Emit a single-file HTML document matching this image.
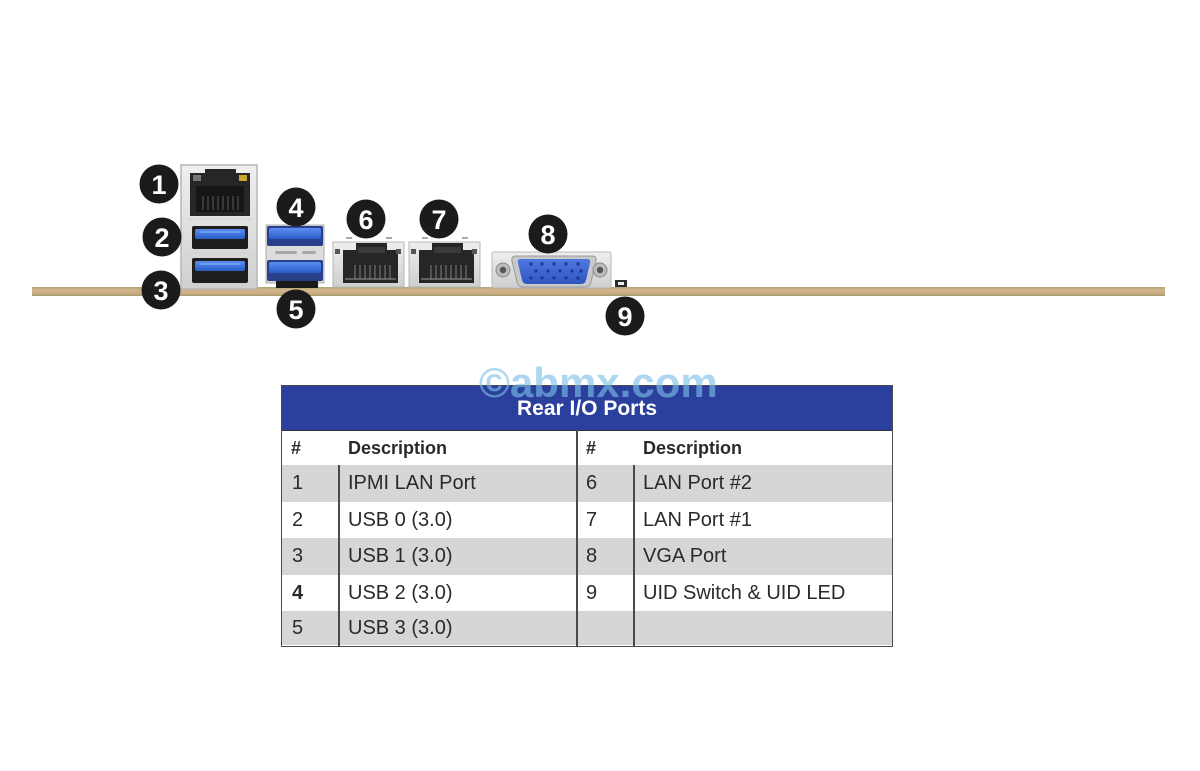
<!DOCTYPE html>
<html>
<head>
<meta charset="utf-8">
<style>
html,body{margin:0;padding:0;background:#fff;}
body{width:1200px;height:771px;position:relative;overflow:hidden;font-family:"Liberation Sans",Arial,sans-serif;}
svg.ports{position:absolute;left:0;top:0;}
.wm{position:absolute;left:479px;top:359px;font-size:42px;font-weight:bold;color:#7cc0e8;opacity:0.62;white-space:nowrap;z-index:3;}
.tbl{position:absolute;left:281px;top:385px;width:612px;height:262px;border:1.5px solid #4a4a4a;box-sizing:border-box;background:#fff;z-index:1;overflow:hidden;}
.hdr{position:absolute;left:0;top:0;width:100%;height:45px;background:#2b3f9c;color:#fff;font-weight:bold;font-size:21px;text-align:center;line-height:46px;border-bottom:1.5px solid #333;box-sizing:border-box;}
.row{position:absolute;left:0;width:100%;height:36.5px;font-size:20px;color:#2a2a2a;}
.row span{position:absolute;line-height:36px;top:0;white-space:nowrap;}
.g{background:#d6d6d6;}
.vl{position:absolute;width:1.5px;background:#4a4a4a;}
</style>
</head>
<body>
<svg class="ports" width="1200" height="771" viewBox="0 0 1200 771">
  <defs>
    <linearGradient id="board" x1="0" y1="0" x2="0" y2="1">
      <stop offset="0" stop-color="#b0a474"/>
      <stop offset="0.35" stop-color="#d2b48c"/>
      <stop offset="0.75" stop-color="#c9ab82"/>
      <stop offset="1" stop-color="#9c9a6a"/>
    </linearGradient>
    <linearGradient id="usbblue" x1="0" y1="0" x2="0" y2="1">
      <stop offset="0" stop-color="#5b8ef0"/>
      <stop offset="1" stop-color="#2a5cc8"/>
    </linearGradient>
    <linearGradient id="metal" x1="0" y1="0" x2="0" y2="1">
      <stop offset="0" stop-color="#efefef"/>
      <stop offset="1" stop-color="#cfcfcf"/>
    </linearGradient>
    <linearGradient id="vga" x1="0" y1="0" x2="0" y2="1">
      <stop offset="0" stop-color="#4f78e0"/>
      <stop offset="1" stop-color="#2f55c0"/>
    </linearGradient>
  </defs>

  <rect x="32" y="287" width="1133" height="9" fill="url(#board)"/>

  <!-- Stack 1 -->
  <rect x="181" y="165" width="76" height="124" fill="url(#metal)" stroke="#b5b5b5" stroke-width="1.5"/>
  <path d="M190 173 H205 V169 H236 V173 H250 V216 H190 Z" fill="#262626"/>
  <rect x="193" y="175" width="8" height="6" fill="#777"/>
  <rect x="239" y="175" width="8" height="6" fill="#c8a830"/>
  <rect x="196" y="186" width="48" height="26" fill="#151515"/>
  <g stroke="#4a4a4a" stroke-width="1.3">
    <line x1="203" y1="196" x2="203" y2="210"/><line x1="208" y1="196" x2="208" y2="210"/>
    <line x1="213" y1="196" x2="213" y2="210"/><line x1="218" y1="196" x2="218" y2="210"/>
    <line x1="223" y1="196" x2="223" y2="210"/><line x1="228" y1="196" x2="228" y2="210"/>
    <line x1="233" y1="196" x2="233" y2="210"/><line x1="238" y1="196" x2="238" y2="210"/>
  </g>
  <line x1="188" y1="219" x2="252" y2="219" stroke="#d0d0d0" stroke-width="1"/>
  <rect x="192" y="226" width="56" height="23" rx="2" fill="#1e1e1e"/>
  <rect x="195" y="229" width="50" height="10" rx="2" fill="url(#usbblue)"/>
  <line x1="200" y1="232" x2="240" y2="232" stroke="#8fb5ff" stroke-width="1"/>
  <line x1="187" y1="253" x2="252" y2="253" stroke="#d0d0d0" stroke-width="1"/>
  <rect x="192" y="258" width="56" height="25" rx="2" fill="#1e1e1e"/>
  <rect x="195" y="261" width="50" height="10" rx="2" fill="url(#usbblue)"/>
  <line x1="200" y1="264" x2="240" y2="264" stroke="#8fb5ff" stroke-width="1"/>

  <!-- Stack 2 -->
  <rect x="266" y="225" width="58" height="58" fill="#d5d5d5" stroke="#b0b0b0" stroke-width="1"/>
  <rect x="267" y="226" width="56" height="20" rx="2" fill="#2a3f8a"/>
  <rect x="269" y="228" width="52" height="11" rx="2" fill="url(#usbblue)"/>
  <rect x="267" y="246" width="56" height="14" fill="#dcdcdc"/>
  <rect x="275" y="251" width="22" height="3" rx="1.5" fill="#a8a8a8"/>
  <rect x="302" y="251" width="14" height="3" rx="1.5" fill="#a8a8a8"/>
  <rect x="267" y="260" width="56" height="21" rx="2" fill="#2a3f8a"/>
  <rect x="269" y="262" width="52" height="11" rx="2" fill="url(#usbblue)"/>
  <rect x="276" y="281" width="42" height="7" fill="#1a1a1a"/>

  <!-- LAN 6 -->
  <g>
    <rect x="333" y="242" width="71" height="45" fill="url(#metal)" stroke="#b5b5b5" stroke-width="1"/>
    <line x1="346" y1="238" x2="352" y2="238" stroke="#555" stroke-width="1"/>
    <line x1="386" y1="238" x2="392" y2="238" stroke="#555" stroke-width="1"/>
    <path d="M343 250 H356 V243 H387 V250 H398 V283 H343 Z" fill="#262626"/>
    <rect x="335" y="249" width="5" height="5" fill="#555"/>
    <rect x="396" y="249" width="5" height="5" fill="#555"/>
    <rect x="358" y="247" width="27" height="6" fill="#3a3a3a"/>
    <g stroke="#6a6a6a" stroke-width="1.3">
      <line x1="355" y1="265" x2="355" y2="279"/><line x1="360" y1="265" x2="360" y2="279"/>
      <line x1="365" y1="265" x2="365" y2="279"/><line x1="370" y1="265" x2="370" y2="279"/>
      <line x1="375" y1="265" x2="375" y2="279"/><line x1="380" y1="265" x2="380" y2="279"/>
      <line x1="385" y1="265" x2="385" y2="279"/><line x1="390" y1="265" x2="390" y2="279"/>
    </g>
    <line x1="345" y1="279" x2="396" y2="279" stroke="#999" stroke-width="1"/>
  </g>
  <!-- LAN 7 -->
  <g transform="translate(76,0)">
    <rect x="333" y="242" width="71" height="45" fill="url(#metal)" stroke="#b5b5b5" stroke-width="1"/>
    <line x1="346" y1="238" x2="352" y2="238" stroke="#555" stroke-width="1"/>
    <line x1="386" y1="238" x2="392" y2="238" stroke="#555" stroke-width="1"/>
    <path d="M343 250 H356 V243 H387 V250 H398 V283 H343 Z" fill="#262626"/>
    <rect x="335" y="249" width="5" height="5" fill="#555"/>
    <rect x="396" y="249" width="5" height="5" fill="#555"/>
    <rect x="358" y="247" width="27" height="6" fill="#3a3a3a"/>
    <g stroke="#6a6a6a" stroke-width="1.3">
      <line x1="355" y1="265" x2="355" y2="279"/><line x1="360" y1="265" x2="360" y2="279"/>
      <line x1="365" y1="265" x2="365" y2="279"/><line x1="370" y1="265" x2="370" y2="279"/>
      <line x1="375" y1="265" x2="375" y2="279"/><line x1="380" y1="265" x2="380" y2="279"/>
      <line x1="385" y1="265" x2="385" y2="279"/><line x1="390" y1="265" x2="390" y2="279"/>
    </g>
    <line x1="345" y1="279" x2="396" y2="279" stroke="#999" stroke-width="1"/>
  </g>

  <!-- VGA -->
  <rect x="492" y="252" width="119" height="36" rx="2" fill="url(#metal)" stroke="#b8b8b8" stroke-width="1"/>
  <path d="M516 256 H592 Q597 256 596 261 L591 282 Q590 287 585 287 H523 Q518 287 517 282 L512 261 Q511 256 516 256 Z" fill="#c8c8c8" stroke="#9a9a9a" stroke-width="1"/>
  <path d="M521 259 H587 Q591 259 590 263 L586 280 Q585 284 581 284 H527 Q523 284 522 280 L518 263 Q517 259 521 259 Z" fill="url(#vga)"/>
  <g fill="#1e3a9a">
    <circle cx="531" cy="264" r="1.7"/><circle cx="542" cy="264" r="1.7"/><circle cx="554" cy="264" r="1.7"/><circle cx="566" cy="264" r="1.7"/><circle cx="578" cy="264" r="1.7"/>
    <circle cx="536" cy="271" r="1.7"/><circle cx="548" cy="271" r="1.7"/><circle cx="560" cy="271" r="1.7"/><circle cx="572" cy="271" r="1.7"/><circle cx="581" cy="271" r="1.7"/>
    <circle cx="531" cy="278" r="1.7"/><circle cx="542" cy="278" r="1.7"/><circle cx="554" cy="278" r="1.7"/><circle cx="566" cy="278" r="1.7"/><circle cx="578" cy="278" r="1.7"/>
  </g>
  <circle cx="503" cy="270" r="7" fill="#bdbdbd" stroke="#8a8a8a" stroke-width="1"/>
  <circle cx="503" cy="270" r="3.2" fill="#555"/>
  <circle cx="600" cy="270" r="7" fill="#bdbdbd" stroke="#8a8a8a" stroke-width="1"/>
  <circle cx="600" cy="270" r="3.2" fill="#555"/>

  <rect x="615" y="280" width="12" height="7" fill="#2a2a2a"/>
  <rect x="618" y="282" width="6" height="3" fill="#eee"/>

  <g fill="#1b1b1b">
    <circle cx="159" cy="184" r="19.5"/>
    <circle cx="162" cy="237" r="19.5"/>
    <circle cx="161" cy="290" r="19.5"/>
    <circle cx="296" cy="207" r="19.5"/>
    <circle cx="296" cy="309" r="19.5"/>
    <circle cx="366" cy="219" r="19.5"/>
    <circle cx="439" cy="219" r="19.5"/>
    <circle cx="548" cy="234" r="19.5"/>
    <circle cx="625" cy="316" r="19.5"/>
  </g>
  <g fill="#fff" font-family="Liberation Sans, Arial, sans-serif" font-weight="bold" font-size="27" text-anchor="middle">
    <text x="159" y="194">1</text>
    <text x="162" y="247">2</text>
    <text x="161" y="300">3</text>
    <text x="296" y="217">4</text>
    <text x="296" y="319">5</text>
    <text x="366" y="229">6</text>
    <text x="439" y="229">7</text>
    <text x="548" y="244">8</text>
    <text x="625" y="326">9</text>
  </g>
</svg>

<div class="tbl">
  <div class="hdr">Rear I/O Ports</div>
  <div class="row" style="top:44px;height:36px;font-weight:bold;font-size:18px;">
    <span style="left:9px;">#</span><span style="left:66px;">Description</span>
    <span style="left:304px;">#</span><span style="left:361px;">Description</span>
  </div>
  <div class="row g" style="top:79px;">
    <span style="left:10px;">1</span><span style="left:66px;">IPMI LAN Port</span>
    <span style="left:304px;">6</span><span style="left:361px;">LAN Port #2</span>
  </div>
  <div class="row" style="top:115.5px;">
    <span style="left:10px;">2</span><span style="left:66px;">USB 0 (3.0)</span>
    <span style="left:304px;">7</span><span style="left:361px;">LAN Port #1</span>
  </div>
  <div class="row g" style="top:152px;">
    <span style="left:10px;">3</span><span style="left:66px;">USB 1 (3.0)</span>
    <span style="left:304px;">8</span><span style="left:361px;">VGA Port</span>
  </div>
  <div class="row" style="top:188.5px;">
    <span style="left:10px;font-weight:bold;">4</span><span style="left:66px;">USB 2 (3.0)</span>
    <span style="left:304px;">9</span><span style="left:361px;">UID Switch &amp; UID LED</span>
  </div>
  <div class="row g" style="top:224.5px;height:34.5px;">
    <span style="left:10px;line-height:35px;">5</span><span style="left:66px;line-height:35px;">USB 3 (3.0)</span>
  </div>
  <div class="vl" style="left:56px;top:79px;height:181px;"></div>
  <div class="vl" style="left:294px;top:44px;height:216px;"></div>
  <div class="vl" style="left:351px;top:79px;height:181px;"></div>
</div>

<div class="wm">©abmx.com</div>
</body>
</html>
